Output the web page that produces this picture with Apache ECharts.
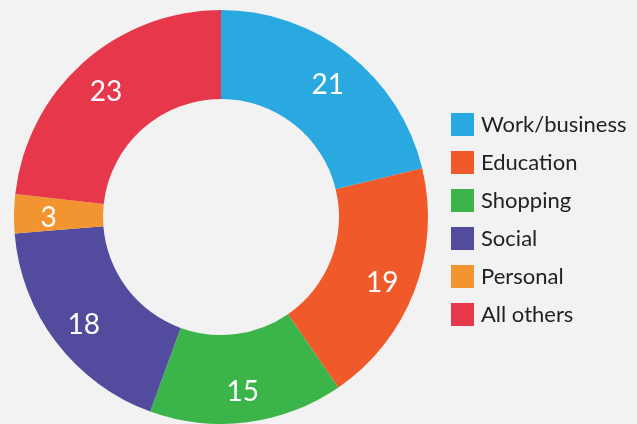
<!DOCTYPE html>
<html>
<head>
<meta charset="utf-8">
<script src="https://cdn.jsdelivr.net/npm/echarts@6/dist/echarts.min.js"></script>
<style>
  html, body { margin: 0; padding: 0; background: #f2f2f2; }
  #chart { width: 637px; height: 424px; }
</style>
</head>
<body>
<div id="chart"></div>
<script>
const categories = ["Work/business", "Education", "Shopping", "Social", "Personal", "All others"];
const values = [21, 19, 15, 18, 3, 23];
const colors = ["#29a9e0", "#f05a2b", "#3bb54a", "#524b9e", "#f29530", "#e6384a"];

const chart = echarts.init(document.getElementById("chart"), null, { renderer: "canvas" });

const pieData = categories.map((name, i) => ({ name: name, value: values[i] }));

chart.setOption({
  backgroundColor: "#f2f2f2",
  animation: false,
  color: colors,
  textStyle: { fontFamily: "Lato" },
  legend: {
    orient: "vertical",
    left: 451,
    top: 113,
    padding: 0,
    itemWidth: 23,
    itemHeight: 23,
    itemGap: 15,
    icon: "rect",
    selectedMode: false,
    data: categories,
    textStyle: {
      fontFamily: "Lato",
      fontSize: 22,
      color: "#222",
      padding: [0, 0, 0, 2],
    },
  },
  series: [
    {
      // the ring itself
      type: "pie",
      center: [221, 217],
      radius: [118, 207],
      startAngle: 90,
      clockwise: true,
      label: { show: false },
      labelLine: { show: false },
      emphasis: { disabled: true },
      itemStyle: { borderWidth: 0 },
      data: pieData,
    },
    {
      // labels only, sitting a bit further out than the ring's middle
      type: "pie",
      center: [221, 217],
      radius: [132, 207],
      startAngle: 90,
      clockwise: true,
      silent: true,
      avoidLabelOverlap: false,
      itemStyle: { color: "transparent", borderWidth: 0 },
      label: {
        show: true,
        position: "inside",
        formatter: "{c}",
        color: "#fff",
        fontFamily: "Lato",
        fontSize: 28,
        offset: [0, 4],
      },
      labelLine: { show: false },
      emphasis: { disabled: true },
      data: pieData,
    },
  ],
});
</script>
</body>
</html>
